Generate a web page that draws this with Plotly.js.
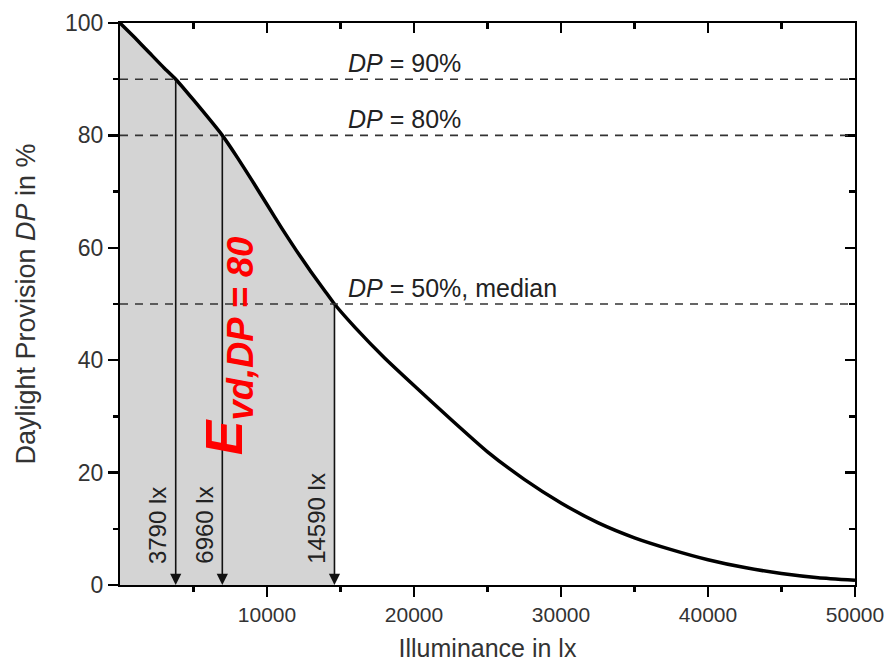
<!DOCTYPE html>
<html>
<head>
<meta charset="utf-8">
<script src="https://cdn.plot.ly/plotly-3.0.1.min.js"></script>
<style>html,body{margin:0;padding:0;background:#fff;}#chart{width:886px;height:663px;}</style>
</head>
<body>
<div id="chart"></div>
<script>
// Illuminance (lx) and daylight provision DP (%)
const illuminance = [0, 1000, 2000, 3000, 3790, 5000, 6960, 8000, 9000, 10000, 11000, 12000, 13000, 14000, 14590, 16000, 18000, 20000, 22500, 25000, 27500, 30000, 32500, 35000, 37500, 40000, 42500, 45000, 47500, 50000];
const dpValues    = [100, 97.4, 94.7, 92.0, 90, 86.3, 80, 76.0, 71.9, 67.7, 63.5, 59.5, 55.7, 52.1, 50, 45.8, 40.4, 35.5, 29.5, 23.7, 18.8, 14.6, 11.1, 8.4, 6.3, 4.5, 3.1, 2.05, 1.3, 0.85];
const dpLevels    = [90, 80, 50];
const thresholds  = [3790, 6960, 14590];
const levelLabels = ['<i>DP</i> = 90%', '<i>DP</i> = 80%', '<i>DP</i> = 50%, median'];
const xTickVals   = [10000, 20000, 30000, 40000, 50000];
const xTickText   = ['10000', '20000', '30000', '40000', '50000'];
const yTickVals   = [0, 20, 40, 60, 80, 100];
const highlight   = '<b><i>E<sub>vd,DP = 80</sub></i></b>';

const FONT = 'Liberation Sans, Arial, Helvetica, sans-serif';
const CLEAR = 'rgba(0,0,0,0)';
const lastT = thresholds[thresholds.length - 1];
const fillX = [], fillY = [];
illuminance.forEach((x, i) => { if (x <= lastT) { fillX.push(x); fillY.push(dpValues[i]); } });
const xMax = illuminance[illuminance.length - 1];
const xRange = [0, xMax], yRange = [0, 100];

const traces = [
  {x: fillX, y: fillY, type: 'scatter', mode: 'lines', fill: 'tozeroy',
   fillcolor: '#d4d4d4', line: {width: 0, shape: 'spline', smoothing: 0.5}, hoverinfo: 'skip', showlegend: false},
  {x: illuminance, y: dpValues, type: 'scatter', mode: 'lines',
   line: {color: 'black', width: 3.5, shape: 'spline', smoothing: 0.5}, showlegend: false}
];
// invisible helper traces so the tick-only overlay axes are drawn
[['x2','y2'],['x3','y3'],['x4','y4']].forEach(([xa, ya]) => traces.push({
  x: xRange, y: yRange, xaxis: xa, yaxis: ya, type: 'scatter', mode: 'lines',
  line: {width: 0, color: CLEAR}, hoverinfo: 'skip', showlegend: false}));

const shapes = dpLevels.map(v => ({
  type: 'line', xref: 'paper', x0: 0, x1: 1, yref: 'y', y0: v, y1: v,
  line: {color: '#333', width: 1.6, dash: '8px,7px'}, layer: 'above'
}));

const annotations = [];
thresholds.forEach((t, i) => {
  annotations.push({x: t, y: 0, ax: t, ay: dpLevels[i], xref: 'x', yref: 'y', axref: 'x', ayref: 'y',
    text: '', showarrow: true, arrowhead: 2, arrowsize: 1.4, arrowwidth: 1.6, arrowcolor: '#111'});
  annotations.push({x: t, y: 3.4, xref: 'x', yref: 'y', text: t + ' lx', showarrow: false,
    textangle: -90, yanchor: 'bottom', xanchor: 'center', xshift: -18,
    font: {family: FONT, size: 24, color: '#222'}});
});
dpLevels.forEach((v, i) => {
  annotations.push({x: 15400, y: v, xref: 'x', yref: 'y', text: levelLabels[i], showarrow: false,
    xanchor: 'left', yanchor: 'bottom',
    font: {family: FONT, size: 25, color: '#222'}});
});
annotations.push({x: 7350, y: 42.5, xref: 'x', yref: 'y', text: highlight, showarrow: false,
  textangle: -90, font: {family: FONT, size: 52, color: '#ff0000'}});

function tickAxis(over, side, dir, len, tick0, dtick, range) {
  return {overlaying: over, side: side, range: range, tickmode: 'linear', tick0: tick0, dtick: dtick,
    ticks: dir, ticklen: len, tickwidth: 2.5, tickcolor: 'black', showticklabels: false,
    gridcolor: CLEAR, zerolinecolor: CLEAR};
}

const layout = {
  width: 886, height: 663,
  margin: {l: 120, r: 31, t: 23, b: 78},
  showlegend: false,
  xaxis: {range: xRange, tickmode: 'array', tickvals: xTickVals, ticktext: xTickText,
    ticks: 'outside', ticklen: 10, tickwidth: 2.5, tickcolor: 'black',
    showline: true, linewidth: 2, linecolor: 'black', mirror: true,
    gridcolor: CLEAR, zerolinecolor: CLEAR,
    tickfont: {family: FONT, size: 21, color: '#333'},
    title: {text: 'Illuminance in lx', font: {family: FONT, size: 25, color: '#333'}, standoff: 14}},
  yaxis: {range: yRange, tickmode: 'array', tickvals: yTickVals,
    ticks: 'outside', ticklen: 10, tickwidth: 2.5, tickcolor: 'black',
    showline: true, linewidth: 2, linecolor: 'black', mirror: true,
    gridcolor: CLEAR, zerolinecolor: CLEAR,
    tickfont: {family: FONT, size: 23, color: '#333'},
    title: {text: 'Daylight Provision <i>DP</i> in %', font: {family: FONT, size: 27, color: '#333'}, standoff: 22}},
  xaxis2: tickAxis('x', 'top', 'inside', 10, 0, 10000, xRange),
  yaxis2: tickAxis('y', 'right', 'inside', 10, 0, 20, yRange),
  xaxis3: tickAxis('x', 'bottom', 'outside', 6, 5000, 10000, xRange),
  yaxis3: tickAxis('y', 'left', 'outside', 6, 10, 20, yRange),
  xaxis4: tickAxis('x', 'top', 'inside', 6, 5000, 10000, xRange),
  yaxis4: tickAxis('y', 'right', 'inside', 6, 10, 20, yRange),
  shapes: shapes,
  annotations: annotations
};

Plotly.newPlot('chart', traces, layout, {displayModeBar: false, staticPlot: true});
</script>
</body>
</html>
